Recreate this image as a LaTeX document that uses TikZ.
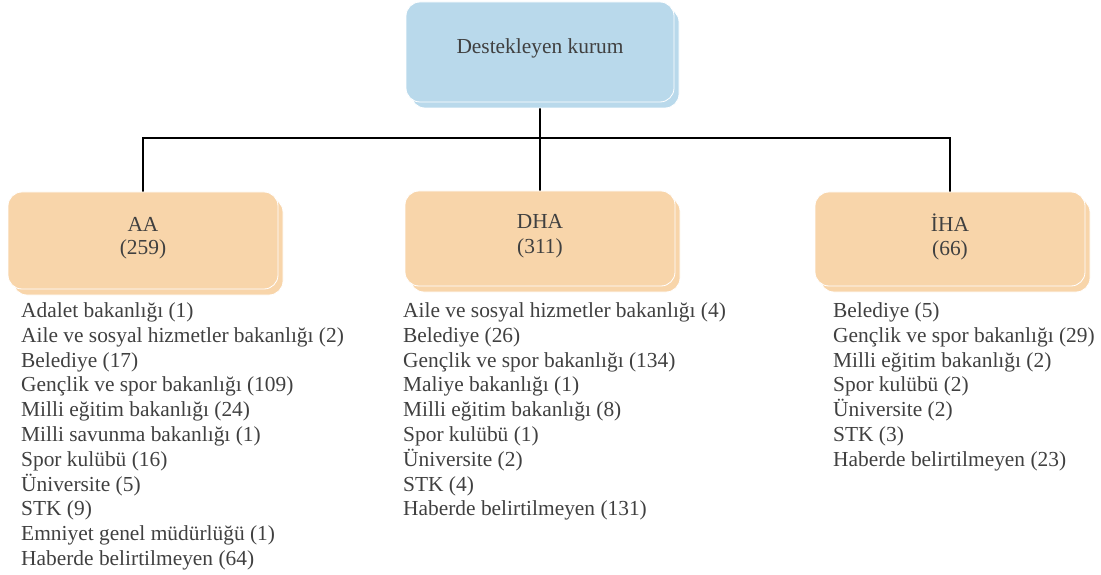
\documentclass[tikz,border=0pt]{standalone}
\usepackage{fontspec}
\setmainfont{Liberation Serif}
\usetikzlibrary{shadows,backgrounds}
\definecolor{boxblue}{HTML}{B9D9EB}
\definecolor{boxpeach}{HTML}{F8D5AA}
\definecolor{txt}{HTML}{404040}
\begin{document}
\begin{tikzpicture}[x=1pt,y=-1pt,
  box/.style={rounded corners=14pt, draw=white, line width=0.8pt, inner sep=0pt,
    copy shadow={shadow xshift=5pt, shadow yshift=-6pt}},
  lbl/.style={text=txt, anchor=base, inner sep=0pt, font=\fontsize{21.4}{24.8}\selectfont},
  item/.style={text=txt, anchor=base west, inner sep=0pt, font=\fontsize{21.4}{24.8}\selectfont},
  conn/.style={draw=black, line width=1.3pt}]
\useasboundingbox (0,0) rectangle (1101,575);

\node[box, fill=boxblue, minimum width=268pt, minimum height=100pt] (top) at (540,52) {};
\node[box, fill=boxpeach, minimum width=270pt, minimum height=97pt] (aa) at (143,240.5) {};
\node[box, fill=boxpeach, minimum width=270pt, minimum height=95pt] (dha) at (540,238.5) {};
\node[box, fill=boxpeach, minimum width=270pt, minimum height=94pt] (iha) at (950,239) {};

\node[lbl] (topt) at (540,54) {Destekleyen kurum};
\node[lbl] (aat1) at (143,231.5) {AA};
\node[lbl] (aat2) at (143,254.5) {(259)};
\node[lbl] (dhat1) at (540,229) {DHA};
\node[lbl] (dhat2) at (540,253) {(311)};
\node[lbl] (ihat1) at (950,231.5) {İHA};
\node[lbl] (ihat2) at (950,255.5) {(66)};

\coordinate (j) at (540,138);
\begin{scope}[on background layer]
\draw[conn] (top.south) -- (dha.north);
\draw[conn] (aa.north) |- (j) -| (iha.north);
\end{scope}

\foreach \t [count=\i] in {Adalet bakanlığı (1), Aile ve sosyal hizmetler bakanlığı (2), Belediye (17), Gençlik ve spor bakanlığı (109), Milli eğitim bakanlığı (24), Milli savunma bakanlığı (1), Spor kulübü (16), Üniversite (5), STK (9), Emniyet genel müdürlüğü (1), Haberde belirtilmeyen (64)}
  \node[item] (aa-\i) at (21,{317.5+24.8*(\i-1)}) {\t};

\foreach \t [count=\i] in {Aile ve sosyal hizmetler bakanlığı (4), Belediye (26), Gençlik ve spor bakanlığı (134), Maliye bakanlığı (1), Milli eğitim bakanlığı (8), Spor kulübü (1), Üniversite (2), STK (4), Haberde belirtilmeyen (131)}
  \node[item] (dha-\i) at (403,{317.5+24.8*(\i-1)}) {\t};

\foreach \t [count=\i] in {Belediye (5), Gençlik ve spor bakanlığı (29), Milli eğitim bakanlığı (2), Spor kulübü (2), Üniversite (2), STK (3), Haberde belirtilmeyen (23)}
  \node[item] (iha-\i) at (833,{317.5+24.8*(\i-1)}) {\t};
\end{tikzpicture}
\end{document}
